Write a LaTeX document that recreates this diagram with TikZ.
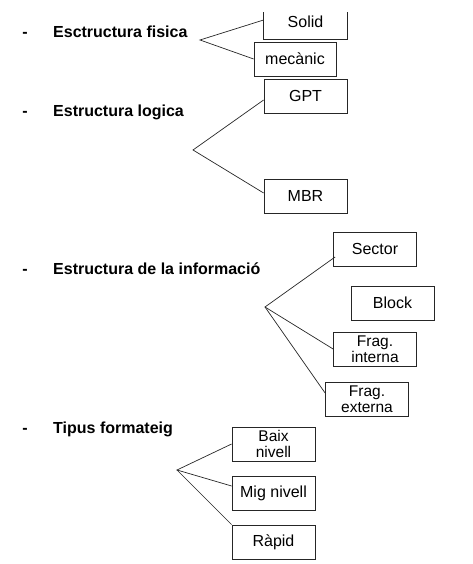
\documentclass[tikz,border=0pt]{standalone}
\usepackage{fontspec}
\setmainfont{Liberation Sans}
\usetikzlibrary{calc}
\begin{document}
\begin{tikzpicture}[x=1pt,y=1pt,
  box/.style={draw=black!85,line width=0.8pt,minimum width=83pt,minimum height=34pt,inner sep=0pt,
    font=\fontsize{16}{18}\selectfont},
  twobox/.style={box,align=center,font=\fontsize{15.5}{16}\selectfont},
  lbl/.style={anchor=base west,inner sep=0pt,font=\fontsize{16}{18}\selectfont\bfseries},
  dashlbl/.style={anchor=base,inner sep=0pt,font=\fontsize{16}{18}\selectfont\bfseries},
  conn/.style={draw=black!85,line width=0.7pt}]
\useasboundingbox (0,0) rectangle (472,564);
% labels
\node[dashlbl] (d1) at (25,526) {-};
\node[lbl] (l1) at (53,526) {Esctructura fisica};
\node[dashlbl] (d2) at (25,447) {-};
\node[lbl] (l2) at (53,447) {Estructura logica};
\node[dashlbl] (d3) at (25,289) {-};
\node[lbl] (l3) at (53,289) {Estructura de la informació};
\node[dashlbl] (d4) at (25,130) {-};
\node[lbl] (l4) at (53,130) {Tipus formateig};
% boxes
\node[box,draw=none] (solid) at (305.5,542) {Solid};
\draw[black!85,line width=0.8pt] ([yshift=27pt]solid.south west) -- (solid.south west) -- (solid.south east) -- ([yshift=27pt]solid.south east);
\node[box,minimum width=82pt] (mec) at (295,505) {mecànic};
\node[box] (gpt) at (305.5,468) {GPT};
\node[box] (mbr) at (305.5,368) {MBR};
\node[box] (sector) at (375,315) {Sector};
\node[box] (block) at (392.5,261) {Block};
\node[twobox] (fint) at (375,215) {Frag.\\interna};
\node[twobox] (fext) at (367,165) {Frag.\\externa};
\node[twobox] (baix) at (273.5,120) {Baix\\nivell};
\node[box] (mig) at (273.5,71) {Mig nivell};
\node[box] (rapid) at (273.5,22) {Ràpid};
% apexes
\coordinate (a1) at (200,524);
\coordinate (a2) at (193,414);
\coordinate (a3) at (265,257);
\coordinate (a4) at (177,94);
% connectors
\draw[conn] ([yshift=2pt]solid.west) -- (a1) -- (mec.west);
\draw[conn] ([yshift=-4pt]gpt.west) -- (a2) -- ([yshift=3pt]mbr.west);
\draw[conn] ([xshift=2pt,yshift=-8pt]sector.west) -- (a3) -- (fint.west);
\draw[conn] (a3) -- ([yshift=6pt]fext.west);
\draw[conn] (baix.west) -- (a4) -- ([yshift=7pt]mig.west);
\draw[conn] (a4) -- (rapid.north west);
\end{tikzpicture}
\end{document}
